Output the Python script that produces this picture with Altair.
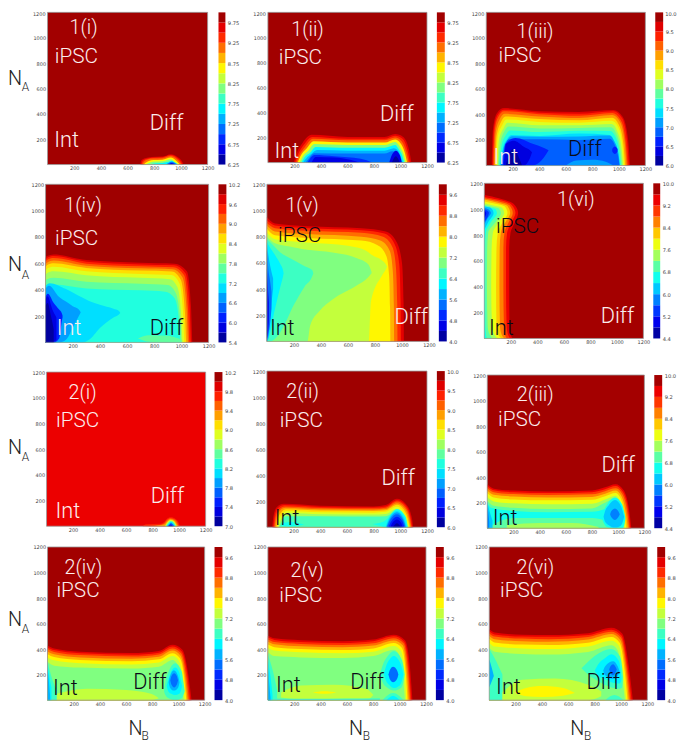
import altair as alt
import pandas as pd

FONT = "Roboto"
TICK_FONT = "DejaVu Sans"
TICK_COLOR = "#444444"
LIGHT = "#FBEDED"
DARK = "#0A0A18"
ORIGIN = 8
CHART_W = 677
CHART_H = 739
NA_TICKS = [200, 400, 600, 800, 1000, 1200]
NB_TICKS = [200, 400, 600, 800, 1000, 1200]

# page boxes: plot x0, x1, y0, y1, colourbar x0, x1
BOXES = [
    (48, 210, 8, 162, 221, 228), (271, 432, 8, 160, 442, 450), (492, 653, 8, 163, 663, 671),
    (46, 211, 182, 342, 221, 229), (270, 434, 182, 341, 444, 452), (490, 651, 181, 338, 661, 668),
    (47, 208, 372, 528, 217, 225), (270, 432, 371, 529, 442, 450), (493, 652, 375, 530, 662, 670),
    (48, 207, 549, 704, 217, 225), (271, 431, 549, 704, 441, 449), (495, 655, 549, 704, 665, 673),
]

# colourbars: lowest level, level step, number of bands, labelled ticks, number format
BARS = [
    (6.25, 0.25, 15, [6.25, 6.75, 7.25, 7.75, 8.25, 8.75, 9.25, 9.75], ".2f"),
    (6.25, 0.25, 15, [6.25, 6.75, 7.25, 7.75, 8.25, 8.75, 9.25, 9.75], ".2f"),
    (6.0, 0.25, 16, [6.0, 6.5, 7.0, 7.5, 8.0, 8.5, 9.0, 9.5, 10.0], ".1f"),
    (5.4, 0.3, 16, [5.4, 6.0, 6.6, 7.2, 7.8, 8.4, 9.0, 9.6, 10.2], ".1f"),
    (4.0, 0.4, 15, [4.0, 4.8, 5.6, 6.4, 7.2, 8.0, 8.8, 9.6], ".1f"),
    (4.4, 0.4, 14, [4.4, 5.2, 6.0, 6.8, 7.6, 8.4, 9.2, 10.0], ".1f"),
    (7.0, 0.2, 16, [7.0, 7.4, 7.8, 8.2, 8.6, 9.0, 9.4, 9.8, 10.2], ".1f"),
    (6.0, 0.25, 16, [6.0, 6.5, 7.0, 7.5, 8.0, 8.5, 9.0, 9.5, 10.0], ".1f"),
    (4.4, 0.4, 14, [4.4, 5.2, 6.0, 6.8, 7.6, 8.4, 9.2, 10.0], ".1f"),
    (4.0, 0.4, 15, [4.0, 4.8, 5.6, 6.4, 7.2, 8.0, 8.8, 9.6], ".1f"),
    (4.0, 0.4, 15, [4.0, 4.8, 5.6, 6.4, 7.2, 8.0, 8.8, 9.6], ".1f"),
    (4.0, 0.4, 15, [4.0, 4.8, 5.6, 6.4, 7.2, 8.0, 8.8, 9.6], ".1f"),
]

# background band of each panel
BACKGROUND = [14, 14, 15, 15, 14, 13, 13.8, 15, 13, 14, 14, 14]

# in-plot labels: text, left NB, baseline NA, colour
LABELS = [
    [("1(i)", 165, 1033, LIGHT), ("iPSC", 55, 800, LIGHT), ("Int", 50, 135, LIGHT), ("Diff", 767, 273, LIGHT)],
    [("1(ii)", 176, 1012, LIGHT), ("iPSC", 82, 787, LIGHT), ("Int", 50, 38, LIGHT), ("Diff", 846, 330, LIGHT)],
    [("1(iii)", 228, 1003, LIGHT), ("iPSC", 92, 811, LIGHT), ("Int", 55, 14, LIGHT), ("Diff", 617, 71, DARK)],
    [("1(iv)", 138, 989, LIGHT), ("iPSC", 70, 740, LIGHT), ("Int", 82, 60, LIGHT), ("Diff", 767, 60, DARK)],
    [("1(v)", 137, 988, LIGHT), ("iPSC", 83, 756, DARK), ("Int", 22, 48, DARK), ("Diff", 945, 136, LIGHT)],
    [("1(vi)", 548, 1024, LIGHT), ("iPSC", 89, 813, DARK), ("Int", 35, 30, DARK), ("Diff", 878, 119, LIGHT)],
    [("2(i)", 166, 993, LIGHT), ("iPSC", 72, 771, LIGHT), ("Int", 67, 64, LIGHT), ("Diff", 786, 182, LIGHT)],
    [("2(ii)", 145, 994, LIGHT), ("iPSC", 96, 774, LIGHT), ("Int", 59, 20, DARK), ("Diff", 859, 324, LIGHT)],
    [("2(iii)", 225, 997, LIGHT), ("iPSC", 82, 799, LIGHT), ("Int", 42, 26, DARK), ("Diff", 872, 440, LIGHT)],
    [("2(iv)", 130, 988, LIGHT), ("iPSC", 68, 808, LIGHT), ("Int", 42, 41, DARK), ("Diff", 655, 90, DARK)],
    [("2(v)", 172, 966, LIGHT), ("iPSC", 87, 766, LIGHT), ("Int", 62, 60, DARK), ("Diff", 626, 91, DARK)],
    [("2(vi)", 207, 988, LIGHT), ("iPSC", 82, 808, LIGHT), ("Int", 52, 52, DARK), ("Diff", 738, 90, DARK)],
]

# contours, painted in order: (band, NB values, upper NA values[, lower NA values])
C1 = [
    (13, [695, 705, 730, 780, 860, 925, 975, 1005, 1020], [0, 35, 50, 60, 63, 82, 60, 30, 0]),
    (12, [703, 713, 738, 785, 860, 925, 970, 998, 1012], [0, 28, 44, 54, 57, 75, 54, 25, 0]),
    (11, [710, 722, 745, 790, 860, 925, 965, 990, 1004], [0, 22, 38, 47, 50, 67, 47, 20, 0]),
    (9, [722, 735, 760, 795, 860, 925, 958, 980, 993], [0, 14, 28, 36, 38, 55, 36, 15, 0]),
    (7, [735, 750, 775, 800, 860, 925, 950, 970, 985], [0, 8, 18, 24, 26, 42, 25, 10, 0]),
    (5, [760, 800, 860, 900, 930, 955, 978], [0, 8, 12, 20, 30, 16, 0]),
    (3, [890, 910, 930, 955, 972], [0, 14, 22, 12, 0]),
    (1, [905, 930, 960], [0, 12, 0]),
]
C2 = [
    (13, [195, 215, 260, 330, 600, 880, 960, 1020, 1065, 1082], [0, 70, 155, 222, 205, 205, 228, 205, 100, 0]),
    (12, [205, 225, 270, 335, 600, 880, 960, 1015, 1055, 1072], [0, 60, 140, 205, 190, 190, 215, 190, 90, 0]),
    (11, [215, 235, 280, 340, 600, 880, 960, 1005, 1045, 1062], [0, 55, 125, 190, 178, 178, 200, 175, 80, 0]),
    (9, [225, 245, 290, 345, 600, 880, 960, 1000, 1035, 1050], [0, 50, 110, 170, 160, 160, 185, 155, 70, 0]),
    (7, [240, 260, 305, 350, 600, 880, 960, 990, 1025, 1040], [0, 45, 95, 148, 140, 140, 165, 135, 60, 0]),
    (5, [255, 275, 320, 360, 600, 880, 960, 985, 1015, 1028], [0, 40, 80, 125, 118, 118, 140, 110, 50, 0]),
    (4, [265, 290, 330, 370, 600, 880, 950, 985, 1005, 1018], [0, 35, 70, 100, 95, 95, 115, 90, 40, 0]),
    (3, [285, 310, 350, 600, 880, 940, 985, 1000, 1008], [0, 35, 75, 72, 72, 90, 65, 30, 0]),
    (2, [300, 350, 500, 700, 790], [0, 60, 50, 30, 0]),
    (1, [330, 360, 500, 620, 690], [0, 45, 40, 22, 0]),
    (1, [915, 935, 965, 995, 1010], [0, 60, 95, 60, 0]),
    (0, [935, 965, 995], [0, 50, 0]),
]
C3 = [
    (14, [42, 50, 80, 134, 400, 700, 960, 1030, 1070, 1085], [0, 280, 410, 450, 425, 420, 435, 380, 200, 0]),
    (13, [48, 56, 85, 134, 400, 700, 960, 1025, 1062, 1076], [0, 270, 395, 438, 414, 405, 425, 370, 190, 0]),
    (12, [54, 62, 90, 134, 400, 700, 950, 1015, 1052, 1066], [0, 260, 380, 425, 402, 390, 412, 355, 180, 0]),
    (11, [60, 70, 100, 140, 400, 700, 950, 1010, 1045, 1058], [0, 250, 360, 405, 385, 372, 395, 340, 170, 0]),
    (10, [68, 78, 110, 145, 400, 700, 950, 1000, 1035, 1048], [0, 235, 340, 385, 365, 355, 375, 320, 160, 0]),
    (9, [75, 85, 120, 150, 400, 700, 945, 995, 1028, 1040], [0, 215, 315, 360, 342, 335, 350, 300, 150, 0]),
    (8, [82, 95, 130, 160, 400, 700, 945, 985, 1020, 1032], [0, 195, 290, 335, 315, 315, 325, 275, 135, 0]),
    (7, [90, 105, 135, 170, 400, 700, 940, 980, 1012, 1024], [0, 175, 265, 305, 290, 295, 300, 250, 120, 0]),
    (6, [97, 115, 145, 180, 400, 700, 935, 975, 1005, 1016], [0, 155, 235, 275, 262, 272, 270, 225, 105, 0]),
    (5, [105, 125, 155, 190, 400, 700, 930, 965, 998, 1008], [0, 135, 205, 240, 232, 250, 240, 195, 90, 0]),
    (4, [108, 128, 160, 195, 400, 700, 930, 965, 998, 1006], [0, 130, 200, 230, 225, 228, 235, 190, 85, 0]),
    (3, [112, 135, 170, 400, 700, 930, 965, 995, 1005], [0, 125, 205, 205, 200, 210, 170, 70, 0]),
    (4, [600, 680, 800, 900, 960], [0, 40, 45, 30, 0]),
    (2, [125, 145, 220, 350, 440, 470], [0, 170, 215, 170, 135, 120], [0, 0, 0, 0, 70, 120]),
    (1, [132, 150, 210, 280, 330, 345], [0, 170, 195, 150, 120, 105], [0, 0, 0, 0, 60, 105]),
    (0, [145, 200, 270], [0, 130, 0]),
    (2, [950, 970, 990], [130, 150, 130], [110, 90, 110]),
]
C4 = [
    (14, [0, 10, 60, 300, 700, 950, 1040, 1070, 1080], [640, 655, 668, 625, 605, 598, 540, 280, 0]),
    (13, [0, 10, 60, 300, 700, 945, 1030, 1060, 1070], [625, 640, 655, 612, 592, 585, 525, 270, 0]),
    (12, [0, 10, 60, 300, 700, 940, 1020, 1048, 1058], [610, 625, 640, 598, 578, 570, 510, 260, 0]),
    (11, [0, 10, 60, 300, 700, 935, 1008, 1038, 1048], [590, 605, 622, 582, 562, 555, 495, 250, 0]),
    (10, [0, 10, 60, 300, 700, 930, 995, 1025, 1035], [570, 585, 600, 565, 545, 538, 475, 240, 0]),
    (9, [0, 10, 60, 300, 700, 925, 985, 1012, 1022], [545, 560, 575, 540, 520, 512, 450, 225, 0]),
    (8, [0, 10, 60, 300, 700, 915, 970, 998, 1008], [510, 525, 540, 510, 490, 480, 420, 210, 0]),
    (7, [0, 10, 60, 300, 700, 900, 955, 990, 1000], [465, 480, 490, 460, 445, 435, 380, 190, 0]),
    (6, [0, 10, 60, 300, 700, 880, 950, 982, 990], [415, 430, 440, 410, 395, 385, 335, 170, 0]),
    (7, [680, 760, 900, 1000], [30, 55, 50, 20], [30, 5, 0, 0]),
    (5, [0, 30, 150, 270, 320, 400, 500, 540, 550], [430, 450, 405, 340, 315, 285, 255, 238, 224], [0, 0, 0, 0, 20, 110, 190, 212, 224]),
    (4, [0, 25, 100, 150, 200, 245, 259], [410, 430, 345, 310, 275, 250, 229], [0, 0, 0, 20, 110, 200, 229]),
    (2, [0, 17, 60, 100, 118, 125], [350, 370, 300, 250, 225, 205], [0, 0, 0, 30, 150, 190]),
    (1, [0, 15, 50, 80], [330, 350, 250, 190], [0, 0, 0, 20]),
    (0, [0, 15, 40, 60], [280, 300, 200, 100]),
]
C5 = [
    (13, [0, 60, 300, 700, 880, 960, 1000, 1012, 1014], [950, 900, 880, 865, 840, 760, 600, 300, 0]),
    (12, [0, 60, 300, 700, 870, 945, 980, 990, 992], [925, 885, 865, 850, 825, 745, 590, 300, 0]),
    (11, [0, 60, 300, 700, 860, 930, 955, 965, 967], [905, 865, 845, 830, 800, 720, 570, 290, 0]),
    (10, [0, 60, 300, 700, 840, 910, 932, 940, 942], [885, 840, 820, 800, 770, 690, 540, 280, 0]),
    (9, [0, 60, 300, 700, 820, 885, 905, 912, 914], [860, 810, 790, 770, 735, 650, 500, 260, 0]),
    (8, [0, 60, 300, 600, 754, 770, 850, 880, 890], [830, 780, 755, 730, 680, 665, 620, 590, 570], [0, 0, 0, 0, 0, 300, 500, 550, 570]),
    (7, [0, 60, 170, 300, 320, 388, 486, 656, 750, 775], [800, 750, 725, 700, 698, 690, 680, 640, 590, 530], [0, 0, 0, 0, 120, 230, 320, 421, 490, 520]),
    (6, [0, 22, 100, 200, 280, 335, 344], [780, 760, 680, 620, 575, 545, 521], [0, 0, 70, 280, 420, 495, 521]),
    (5, [0, 10, 60, 100, 118, 124], [760, 740, 660, 590, 550, 521], [0, 20, 250, 420, 490, 521]),
    (4, [0, 12, 30, 46], [740, 650, 550, 480], [0, 30, 250, 400]),
    (3, [0, 10, 25, 34], [700, 560, 450, 380], [0, 50, 150, 250]),
    (1, [0, 8, 14], [560, 400, 300], [20, 60, 150]),
]
# 1(vi) runs along NA: (band, NA values, right NB values)
H6 = [
    (12, [0, 30, 100, 400, 700, 820, 900, 970, 1040, 1085, 1110], [215, 198, 190, 188, 188, 198, 232, 255, 222, 110, 0]),
    (11, [0, 30, 100, 400, 700, 820, 900, 970, 1035, 1075, 1095], [195, 178, 168, 164, 164, 172, 205, 235, 205, 100, 0]),
    (10, [0, 30, 100, 400, 700, 820, 900, 970, 1030, 1065, 1085], [170, 155, 148, 144, 144, 152, 185, 215, 190, 90, 0]),
    (9, [0, 30, 100, 400, 700, 820, 900, 970, 1025, 1055, 1075], [150, 130, 118, 114, 116, 125, 160, 195, 175, 80, 0]),
    (8, [0, 30, 100, 400, 700, 820, 900, 970, 1020, 1045, 1060], [130, 105, 92, 89, 92, 102, 140, 175, 155, 70, 0]),
    (7, [0, 30, 100, 400, 700, 820, 900, 970, 1010, 1030, 1045], [100, 75, 58, 52, 55, 65, 110, 150, 135, 60, 0]),
    (6, [0, 30, 100, 400, 700, 820, 900, 970, 1005, 1020, 1035], [60, 40, 25, 20, 22, 30, 85, 125, 110, 50, 0]),
    (5, [0, 30, 100, 400, 700, 820, 900, 970, 1000, 1015, 1025], [20, 12, 8, 6, 6, 12, 50, 95, 85, 30, 0]),
    (4, [840, 900, 970, 1010, 1020], [0, 30, 70, 50, 0]),
    (3, [880, 930, 970, 1000, 1012], [0, 25, 50, 30, 0]),
    (2, [900, 940, 975, 1000], [0, 25, 35, 0]),
    (1, [930, 970, 990], [0, 15, 0]),
]
C7 = [
    (13, [725, 750, 860, 885, 905, 937, 975, 995, 1005], [0, 15, 20, 30, 55, 70, 55, 30, 0]),
    (12, [745, 860, 890, 910, 937, 970, 988, 998], [0, 12, 25, 50, 63, 50, 25, 0]),
    (11, [770, 860, 895, 915, 937, 965, 982, 992], [0, 8, 20, 44, 56, 44, 20, 0]),
    (9, [893, 918, 937, 962, 982], [0, 38, 48, 38, 0]),
    (7, [898, 922, 937, 958, 978], [0, 32, 42, 32, 0]),
    (5, [905, 925, 937, 955, 972], [0, 26, 35, 26, 0]),
    (3, [910, 930, 937, 950, 965], [0, 18, 26, 18, 0]),
    (1, [918, 937, 955], [0, 14, 0]),
]
C8 = [
    (14, [40, 50, 75, 125, 400, 800, 890, 975, 1040, 1085, 1097], [0, 90, 155, 180, 165, 160, 170, 218, 180, 80, 0]),
    (13, [48, 58, 82, 130, 400, 800, 890, 975, 1038, 1078, 1090], [0, 85, 145, 170, 156, 152, 160, 208, 170, 75, 0]),
    (12, [55, 65, 90, 135, 400, 800, 890, 975, 1035, 1072, 1084], [0, 80, 135, 160, 148, 143, 150, 198, 160, 70, 0]),
    (11, [62, 72, 95, 140, 400, 800, 890, 975, 1030, 1066, 1078], [0, 70, 125, 150, 138, 135, 140, 185, 150, 65, 0]),
    (10, [70, 80, 105, 145, 400, 800, 890, 975, 1025, 1060, 1072], [0, 62, 112, 138, 128, 125, 130, 172, 138, 55, 0]),
    (9, [78, 90, 115, 150, 400, 800, 890, 975, 1020, 1054, 1066], [0, 55, 100, 125, 115, 112, 118, 158, 125, 50, 0]),
    (8, [85, 100, 125, 160, 400, 800, 890, 975, 1015, 1048, 1060], [0, 48, 85, 110, 100, 98, 102, 142, 110, 45, 0]),
    (6.6, [92, 110, 140, 400, 800, 890, 975, 1010, 1042, 1055], [0, 42, 85, 85, 82, 85, 125, 95, 40, 0]),
    (5.8, [110, 180, 280], [30, 40, 20], [10, 5, 20]),
    (5.8, [790, 850, 880, 910, 975, 1040, 1055], [25, 35, 45, 75, 140, 80, 0], [25, 10, 0, 0, 0, 0, 0]),
    (5, [890, 915, 975, 1030, 1048], [0, 70, 125, 70, 0]),
    (4, [895, 920, 975, 1025, 1042], [0, 65, 115, 62, 0]),
    (3, [900, 925, 975, 1020, 1038], [0, 60, 100, 55, 0]),
    (2, [910, 935, 975, 1015, 1030], [0, 50, 80, 45, 0]),
    (1, [925, 945, 975, 1005, 1018], [0, 40, 60, 35, 0]),
    (0, [945, 975, 1005], [0, 30, 0]),
]
C9 = [
    (12, [0, 50, 200, 467, 800, 900, 980, 1040, 1085, 1100], [345, 310, 295, 288, 295, 320, 345, 300, 130, 0]),
    (11, [0, 50, 200, 467, 800, 900, 980, 1035, 1078, 1092], [330, 297, 282, 275, 282, 305, 330, 285, 125, 0]),
    (10, [0, 50, 200, 467, 800, 900, 980, 1030, 1070, 1084], [315, 282, 267, 260, 265, 290, 312, 270, 118, 0]),
    (9, [0, 50, 200, 467, 800, 900, 980, 1025, 1060, 1074], [295, 262, 248, 240, 245, 270, 295, 250, 110, 0]),
    (8, [0, 50, 200, 467, 800, 900, 980, 1020, 1050, 1062], [275, 240, 225, 218, 222, 250, 275, 230, 100, 0]),
    (7, [0, 50, 200, 467, 800, 900, 980, 1010, 1040, 1050], [245, 210, 195, 188, 192, 225, 255, 210, 90, 0]),
    (6, [0, 50, 200, 467, 800, 890, 980, 1005, 1030, 1040], [215, 175, 160, 150, 155, 195, 235, 190, 80, 0]),
    (5, [0, 30, 200, 467, 800, 900], [200, 160, 135, 125, 128, 150], [0, 20, 80, 80, 80, 60]),
    (7, [150, 400, 650, 850], [25, 40, 40, 10]),
    (5, [875, 890, 915, 975, 1030, 1045, 1055], [80, 135, 185, 240, 185, 130, 80], [80, 40, 10, 0, 0, 20, 80]),
    (4, [888, 900, 925, 975, 1020, 1035, 1045], [90, 135, 175, 220, 175, 130, 90], [90, 50, 25, 5, 20, 50, 90]),
    (3, [938, 948, 975, 1000, 1012], [110, 135, 155, 135, 110], [110, 85, 65, 85, 110]),
    (4, [0, 18, 40], [210, 130, 60], [0, 0, 0]),
    (3, [0, 8, 15], [180, 120, 50], [0, 0, 0]),
]
C10 = [
    (13, [0, 50, 250, 642, 850, 955, 1030, 1075, 1100], [428, 405, 380, 369, 385, 433, 395, 200, 0]),
    (12, [0, 50, 250, 642, 850, 955, 1025, 1068, 1090], [415, 392, 367, 356, 372, 420, 382, 195, 0]),
    (11, [0, 50, 250, 642, 850, 955, 1020, 1060, 1080], [400, 378, 353, 342, 358, 405, 368, 185, 0]),
    (10, [0, 50, 250, 642, 850, 955, 1015, 1052, 1070], [382, 360, 335, 325, 340, 388, 350, 175, 0]),
    (9, [0, 50, 250, 642, 850, 955, 1010, 1045, 1060], [360, 338, 315, 305, 320, 368, 330, 165, 0]),
    (8, [0, 50, 250, 642, 850, 955, 1005, 1035, 1050], [335, 312, 290, 280, 295, 345, 305, 150, 0]),
    (7, [0, 50, 250, 642, 850, 955, 995, 1025, 1040], [300, 270, 255, 248, 262, 315, 275, 135, 0]),
    (8, [68, 300, 600, 790, 850], [50, 90, 80, 50, 15], [0, 0, 0, 0, 15]),
    (6, [890, 900, 925, 975, 1025, 1038, 1048], [70, 140, 225, 290, 225, 140, 70], [70, 40, 15, 0, 15, 40, 70]),
    (5, [910, 922, 945, 975, 1005, 1018, 1028], [110, 160, 225, 255, 220, 160, 110], [110, 70, 50, 40, 50, 70, 110]),
    (4, [925, 935, 965, 998, 1008], [140, 185, 235, 185, 140], [140, 100, 75, 100, 140]),
    (3, [937, 947, 967, 987, 997], [155, 190, 210, 190, 155], [155, 120, 100, 120, 155]),
    (6, [0, 25, 70], [310, 200, 80], [0, 0, 0]),
    (5, [0, 15, 30], [290, 180, 100], [0, 0, 0]),
    (4, [0, 10, 20], [260, 150, 30], [0, 0, 0]),
]
C11 = [
    (13, [0, 50, 250, 567, 800, 955, 1040, 1080, 1097], [505, 485, 470, 462, 475, 513, 470, 240, 0]),
    (12, [0, 50, 250, 567, 800, 955, 1035, 1072, 1088], [490, 472, 455, 448, 462, 500, 458, 230, 0]),
    (11, [0, 50, 250, 567, 800, 955, 1030, 1065, 1080], [475, 455, 440, 432, 445, 485, 445, 220, 0]),
    (10, [0, 50, 250, 567, 800, 955, 1025, 1056, 1070], [458, 438, 422, 415, 428, 468, 428, 210, 0]),
    (9, [0, 50, 250, 567, 800, 955, 1018, 1048, 1060], [435, 415, 400, 392, 405, 448, 408, 195, 0]),
    (8, [0, 50, 250, 567, 800, 955, 1010, 1040, 1050], [410, 388, 375, 368, 380, 425, 385, 180, 0]),
    (7, [0, 50, 250, 567, 800, 955, 1000, 1028, 1040], [375, 345, 335, 330, 345, 395, 350, 160, 0]),
    (8, [100, 250, 500, 750, 800], [60, 115, 120, 85, 40], [20, 5, 0, 0, 40]),
    (9, [340, 430, 520], [60, 70, 60], [60, 50, 60]),
    (6, [0, 300, 600, 850], [15, 10, 12, 15]),
    (6, [850, 870, 910, 955, 1010, 1028, 1038], [200, 270, 345, 385, 330, 270, 200], [200, 140, 95, 75, 95, 140, 200]),
    (5, [880, 895, 925, 955, 1000, 1018, 1028], [200, 260, 320, 345, 300, 250, 200], [200, 155, 115, 95, 115, 155, 200]),
    (3, [915, 925, 950, 980, 990], [200, 235, 262, 235, 200], [200, 165, 140, 165, 200]),
    (6, [870, 950, 1030], [0, 55, 0]),
    (5, [900, 950, 1000], [0, 35, 0]),
    (6, [0, 35, 70], [360, 240, 80], [0, 0, 0]),
    (5, [0, 18, 35], [310, 200, 40], [0, 0, 0]),
    (4, [0, 10, 20], [250, 130, 20], [0, 0, 0]),
]
C12 = [
    (13, [0, 40, 250, 452, 750, 927, 1010, 1060, 1090], [555, 530, 512, 510, 525, 567, 520, 260, 0]),
    (12, [0, 40, 250, 452, 750, 927, 1005, 1052, 1080], [540, 515, 498, 496, 510, 552, 505, 250, 0]),
    (11, [0, 40, 250, 452, 750, 927, 1000, 1045, 1070], [522, 498, 482, 478, 495, 535, 490, 240, 0]),
    (10, [0, 40, 250, 452, 750, 927, 995, 1038, 1060], [505, 478, 462, 458, 475, 518, 472, 225, 0]),
    (9, [0, 40, 250, 452, 750, 927, 990, 1030, 1050], [480, 452, 435, 432, 450, 495, 450, 210, 0]),
    (8, [0, 40, 250, 452, 750, 927, 985, 1020, 1040], [450, 420, 405, 400, 420, 465, 425, 190, 0]),
    (7, [0, 40, 250, 452, 750, 927, 975, 1010, 1030], [410, 380, 362, 358, 378, 430, 390, 170, 0]),
    (6, [0, 40, 100], [400, 330, 200], [0, 0, 0]),
    (6, [700, 750, 800, 927, 990, 1008, 1015], [250, 300, 345, 400, 345, 260, 180], [250, 200, 165, 100, 90, 100, 180]),
    (8, [100, 250, 500, 750, 850], [60, 160, 170, 120, 70], [0, 0, 0, 0, 30]),
    (9, [200, 280, 400, 560, 650], [60, 95, 110, 95, 55], [55, 30, 25, 35, 55]),
    (5, [800, 830, 880, 927, 985, 998, 1004], [230, 285, 330, 360, 305, 230, 170], [230, 190, 165, 140, 130, 140, 170]),
    (4, [865, 880, 940, 975, 990], [230, 265, 305, 265, 225], [230, 195, 165, 190, 225]),
    (3, [910, 920, 940, 958, 968], [240, 265, 282, 262, 240], [240, 215, 195, 215, 240]),
    (6, [880, 950, 1020], [0, 40, 0]),
    (4, [0, 20, 35], [320, 250, 190], [100, 150, 190]),
]
VERTICAL = [C1, C2, C3, C4, C5, [], C7, C8, C9, C10, C11, C12]
HORIZONTAL = [[], [], [], [], [], H6, [], [], [], [], [], []]

# axis letters: text, page left, page baseline, font size
AXIS_LETTERS = [
    ("N", 8, 82, 20), ("A", 22, 88, 12),
    ("N", 8, 270, 20), ("A", 22, 278, 12),
    ("N", 8, 455, 20), ("A", 22, 462, 12),
    ("N", 8, 629, 20), ("A", 22, 636, 12),
    ("N", 130, 739, 20), ("B", 143, 744, 12),
    ("N", 353, 739, 20), ("B", 367, 744, 12),
    ("N", 577, 739, 20), ("B", 591, 744, 12),
]


def jet(t):
    def c(v):
        return int(round(255 * max(0.0, min(1.0, v))))
    r = min(4 * t - 1.5, -4 * t + 4.5)
    g = min(4 * t - 0.5, -4 * t + 3.5)
    b = min(4 * t + 0.5, -4 * t + 2.5)
    return "#%02X%02X%02X" % (c(r), c(g), c(b))


def panel(idx):
    x0, x1, y0, y1, cx0, cx1 = BOXES[idx]
    lo, step, n, ticks, fmt = BARS[idx]
    top_row = idx < 3
    xs = alt.Scale(domain=[0, 1200], range=[x0 - ORIGIN, x1 - ORIGIN], nice=False, zero=False)
    ys = alt.Scale(domain=[0, 1200], range=[y1 - ORIGIN, y0 - ORIGIN], nice=False, zero=False)
    y_vals = NA_TICKS[:-1] if top_row else NA_TICKS
    common = dict(title=None, grid=False, ticks=False, domain=False, labelFont=TICK_FONT,
                  labelColor=TICK_COLOR, labelOverlap=False, labelBound=False, labelFlush=False)
    x_axis = alt.Axis(values=NB_TICKS, orient="bottom", offset=(y1 - ORIGIN) - CHART_H, labelPadding=1,
                      format="d", labelFontSize=5, **common)
    y_axis = alt.Axis(values=y_vals, orient="left", offset=-(x0 - ORIGIN), labelPadding=2,
                      format="d", labelFontSize=5, **common)
    frame_df = pd.DataFrame({"a": [0], "b": [1200], "c": [0], "d": [1200]})
    axes_only = alt.Chart(frame_df).mark_rect(opacity=0).encode(
        x=alt.X("a:Q", scale=xs, axis=x_axis), x2="b:Q", y=alt.Y("c:Q", scale=ys, axis=y_axis), y2="d:Q"
    )
    layers = [
        alt.Chart(frame_df).mark_rect(color=jet((BACKGROUND[idx] + 0.5) / n)).encode(
            x=alt.X("a:Q", scale=xs, axis=None), x2="b:Q", y=alt.Y("c:Q", scale=ys, axis=None), y2="d:Q"
        )
    ]
    for spec in VERTICAL[idx]:
        band, a, b = spec[:3]
        c = spec[3] if len(spec) > 3 else [0] * len(a)
        layers.append(
            alt.Chart(pd.DataFrame({"a": a, "b": b, "c": c})).mark_area(
                color=jet((band + 0.5) / n), interpolate="monotone", orient="vertical"
            ).encode(x=alt.X("a:Q", scale=xs, axis=None), y=alt.Y("b:Q", scale=ys, axis=None, stack=None), y2="c:Q")
        )
    for spec in HORIZONTAL[idx]:
        band, a, b = spec[:3]
        layers.append(
            alt.Chart(pd.DataFrame({"a": a, "b": b, "c": [0] * len(a)})).mark_area(
                color=jet((band + 0.5) / n), interpolate="monotone", orient="horizontal"
            ).encode(y=alt.Y("a:Q", scale=ys, axis=None), x=alt.X("b:Q", scale=xs, axis=None, stack=None), x2="c:Q")
        )
    layers.append(
        alt.Chart(frame_df).mark_rect(filled=False, stroke="#999999", strokeWidth=0.8).encode(
            x=alt.X("a:Q", scale=xs, axis=None), x2="b:Q", y=alt.Y("c:Q", scale=ys, axis=None), y2="d:Q"
        )
    )
    for text, lx, ly, col in LABELS[idx]:
        size = {"iPSC": 21, "Int": 22, "Diff": 22}.get(text, 20)
        layers.append(
            alt.Chart(pd.DataFrame({"a": [lx], "b": [ly], "t": [text]})).mark_text(
                align="left", baseline="alphabetic", font=FONT, fontWeight=300, fontSize=size, color=col
            ).encode(x=alt.X("a:Q", scale=xs, axis=None), y=alt.Y("b:Q", scale=ys, axis=None), text="t:N")
        )
    if top_row:
        layers.append(
            alt.Chart(pd.DataFrame({"a": [0], "b": [1200], "t": ["1200"]})).mark_text(
                align="right", baseline="top", font=TICK_FONT, fontSize=5, color=TICK_COLOR, dx=-2
            ).encode(x=alt.X("a:Q", scale=xs, axis=None), y=alt.Y("b:Q", scale=ys, axis=None), text="t:N")
        )
    out = [axes_only, alt.layer(*layers)]

    hi = lo + n * step
    cs = alt.Scale(domain=[lo, hi], range=[y1 - ORIGIN, y0 - ORIGIN], nice=False, zero=False)
    bar_df = pd.DataFrame({
        "a": [lo + i * step for i in range(n)],
        "b": [lo + (i + 1) * step for i in range(n)],
        "f": [jet((i + 0.5) / n) for i in range(n)],
    })
    bar_ticks = [t for t in ticks if not (top_row and abs(t - hi) < 1e-6)]
    c_axis = alt.Axis(values=bar_ticks, orient="right", offset=(cx1 - ORIGIN) - CHART_W, format=fmt,
                      labelPadding=2, labelFontSize=5.2, **common)
    out.append(
        alt.Chart(bar_df).mark_rect().encode(
            x=alt.value(cx0 - ORIGIN), x2=alt.value(cx1 - ORIGIN),
            y=alt.Y("a:Q", scale=cs, axis=c_axis), y2="b:Q",
            fill=alt.Fill("f:N", scale=None),
        )
    )
    if top_row and any(abs(t - hi) < 1e-6 for t in ticks):
        out.append(
            alt.Chart(pd.DataFrame({"b": [hi], "t": [format(hi, fmt)]})).mark_text(
                align="left", baseline="top", font=TICK_FONT, fontSize=5.2, color=TICK_COLOR, dx=2
            ).encode(x=alt.value(cx1 - ORIGIN), y=alt.Y("b:Q", scale=cs, axis=None), text="t:N")
        )
    return out


members = []
for i in range(12):
    members.extend(panel(i))
for text, px, py, size in AXIS_LETTERS:
    members.append(
        alt.Chart(pd.DataFrame({"t": [text]})).mark_text(
            align="left", baseline="alphabetic", font=FONT, fontWeight=300, fontSize=size, color="#222222"
        ).encode(x=alt.value(px - ORIGIN), y=alt.value(py - ORIGIN), text="t:N")
    )

chart = alt.layer(*members).resolve_scale(x="independent", y="independent").properties(
    width=CHART_W, height=CHART_H, padding=0, autosize="none"
).configure_view(stroke=None)

chart.save("out.html", embed_options={"renderer": "svg", "actions": False})
